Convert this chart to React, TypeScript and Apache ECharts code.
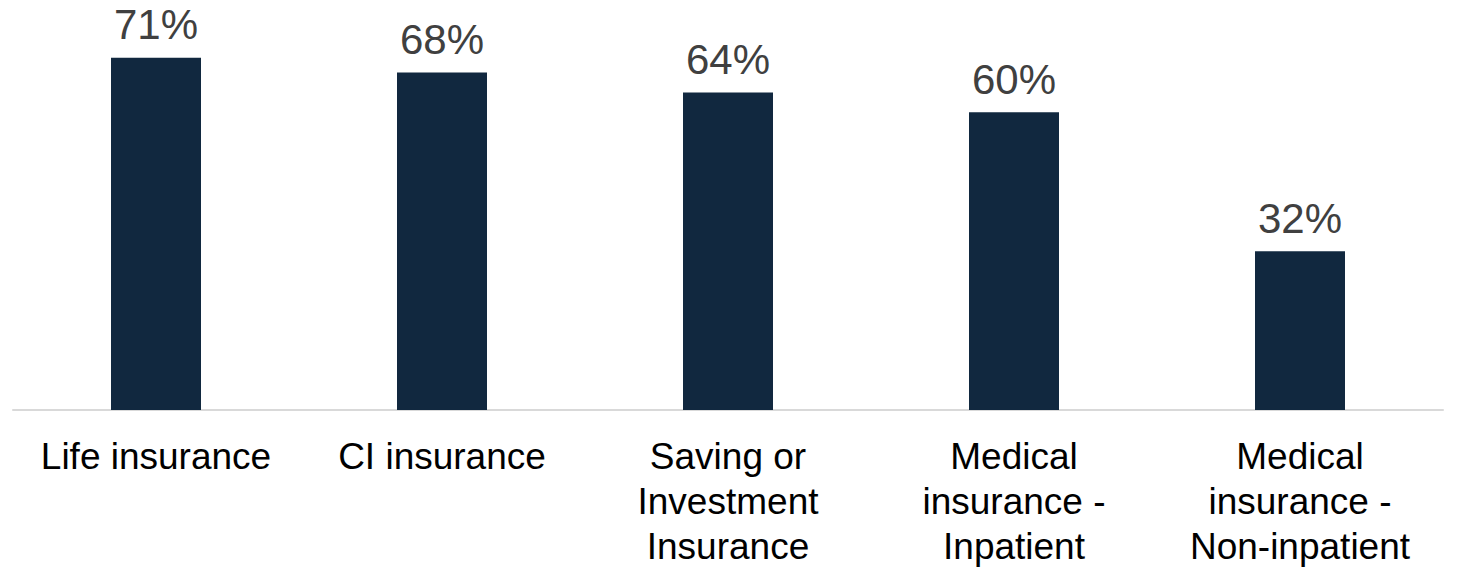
import { useEffect, useRef } from 'react';
import * as echarts from 'echarts';

const categories = [
  'Life insurance',
  'CI insurance',
  'Saving or\nInvestment\nInsurance',
  'Medical\ninsurance -\nInpatient',
  'Medical\ninsurance -\nNon-inpatient'
];
const values = [71, 68, 64, 60, 32];

export default function App() {
  const chartRef = useRef<HTMLDivElement>(null);

  useEffect(() => {
    if (!chartRef.current) return;
    const myChart = echarts.init(chartRef.current, null, { renderer: 'svg' });

    const option = {
      animation: false,
      grid: { left: 13, right: 15, top: 13, bottom: 151 },
      xAxis: {
        type: 'category',
        data: categories,
        axisLine: { lineStyle: { color: '#d9d9d9', width: 2 } },
        axisTick: { show: false },
        axisLabel: {
          color: '#000',
          fontSize: 37,
          fontFamily: 'Liberation Sans, Arial, sans-serif',
          lineHeight: 45,
          margin: 24,
          interval: 0
        }
      },
      yAxis: {
        type: 'value',
        min: 0,
        max: 80,
        show: false
      },
      series: [
        {
          type: 'bar',
          data: values,
          barWidth: 90,
          itemStyle: { color: '#11283f' },
          label: {
            show: true,
            position: 'top',
            distance: 12,
            color: '#404040',
            fontSize: 42,
            fontFamily: 'Liberation Sans, Arial, sans-serif',
            formatter: '{c}%'
          }
        }
      ]
    };

    myChart.setOption(option);

    const handleResize = () => myChart.resize();
    window.addEventListener('resize', handleResize);

    return () => {
      window.removeEventListener('resize', handleResize);
      myChart.dispose();
    };
  }, []);

  return (
    <div
      ref={chartRef}
      style={{ position: 'fixed', left: 0, top: 0, width: 1458, height: 569, background: '#fff' }}
    />
  );
}
